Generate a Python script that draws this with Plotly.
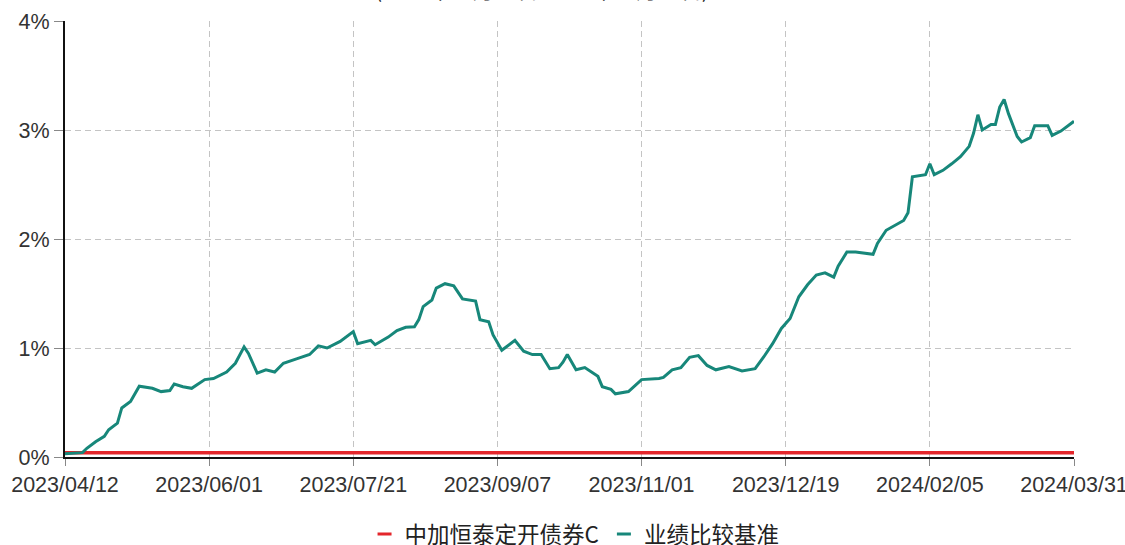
import plotly.graph_objects as go

# trading-day index (0 = 2023/04/12, 231 = 2024/03/31)
tick_idx = [0, 33, 66, 99, 132, 165, 198, 231]
tick_labels = ["2023/04/12", "2023/06/01", "2023/07/21", "2023/09/07",
               "2023/11/01", "2023/12/19", "2024/02/05", "2024/03/31"]
y_ticks = [0, 1, 2, 3, 4]
y_labels = ["0%", "1%", "2%", "3%", "4%"]

bench_idx = [0, 4, 5, 7, 9, 10, 12, 13, 15, 17, 20, 22, 24, 25, 27, 29, 32, 34, 37, 39,
             41, 42, 44, 46, 48, 50, 53, 56, 58, 60, 63, 66, 67, 70, 71, 74, 76, 78, 80, 81,
             82, 84, 85, 87, 89, 91, 94, 95, 97, 98, 100, 103, 105, 107, 109, 111, 113, 114, 115, 117,
             119, 122, 123, 125, 126, 129, 132, 136, 137, 139, 141, 143, 145, 147, 149, 152, 155, 158, 160, 162,
             164, 166, 168, 170, 172, 174, 176, 177, 179, 181, 185, 186, 188, 192, 193, 194, 197, 198, 199, 201,
             203, 205, 207, 208, 209, 210, 212, 213, 214, 215, 216, 218, 219, 221, 222, 225, 226, 228, 231]
bench_vals = [0.03, 0.04, 0.08, 0.14, 0.19, 0.25, 0.31, 0.45, 0.51, 0.65, 0.63, 0.60, 0.61, 0.67, 0.645, 0.63, 0.71, 0.72, 0.78, 0.86,
              1.01, 0.95, 0.77, 0.80, 0.78, 0.86, 0.90, 0.94, 1.02, 1.00, 1.06, 1.15, 1.04, 1.07, 1.03, 1.10, 1.16, 1.19, 1.195, 1.26,
              1.38, 1.44, 1.55, 1.59, 1.57, 1.45, 1.43, 1.26, 1.24, 1.12, 0.98, 1.07, 0.97, 0.94, 0.94, 0.81, 0.82, 0.87, 0.94, 0.80,
              0.82, 0.74, 0.645, 0.62, 0.58, 0.60, 0.71, 0.72, 0.73, 0.80, 0.82, 0.915, 0.93, 0.84, 0.80, 0.83, 0.79, 0.81, 0.92, 1.04,
              1.18, 1.27, 1.47, 1.58, 1.67, 1.69, 1.65, 1.75, 1.88, 1.88, 1.86, 1.96, 2.08, 2.17, 2.24, 2.57, 2.59, 2.69, 2.59, 2.63,
              2.69, 2.755, 2.85, 2.97, 3.14, 3.00, 3.05, 3.05, 3.21, 3.28, 3.15, 2.94, 2.89, 2.93, 3.04, 3.04, 2.95, 2.99, 3.08]

fund_idx = [0, 231]
fund_vals = [0.04, 0.04]

fund_name = "中加恒泰定开债券C"
bench_name = "业绩比较基准"
title_text = "(2023年04月12日-2024年03月31日)"

RED = "#e4262b"
TEAL = "#17877a"
FONT = "Liberation Sans, Arial, sans-serif"
GRID = "#c4c4c4"

fig = go.Figure()
fig.add_trace(go.Scatter(x=fund_idx, y=fund_vals, mode="lines", name=fund_name,
                         line=dict(color=RED, width=3.5), showlegend=False))
fig.add_trace(go.Scatter(x=bench_idx, y=bench_vals, mode="lines", name=bench_name,
                         line=dict(color=TEAL, width=3), showlegend=False))
# legend entries (short dash markers)
fig.add_trace(go.Scatter(x=[None], y=[None], mode="markers", name=fund_name,
                         marker=dict(symbol="line-ew", size=10, line=dict(color=RED, width=3))))
fig.add_trace(go.Scatter(x=[None], y=[None], mode="markers", name=bench_name,
                         marker=dict(symbol="line-ew", size=10, line=dict(color=TEAL, width=3))))

fig.add_annotation(text=title_text, xref="paper", yref="paper", x=0.473, y=1.034,
                   xanchor="center", yanchor="bottom", showarrow=False,
                   font=dict(family="Noto Sans CJK SC", size=21, color="#222"))

fig.update_layout(
    width=1125, height=545,
    margin=dict(l=65, r=51, t=21, b=88, autoexpand=False),
    paper_bgcolor="white", plot_bgcolor="white",
    font=dict(family=FONT, size=21, color="#333"),
    legend=dict(orientation="h", x=0.505, xanchor="center", y=-0.128, yanchor="top",
                font=dict(family="Noto Sans CJK SC", size=22.5, color="#222"),
                itemwidth=30, tracegroupgap=0, bgcolor="rgba(0,0,0,0)"),
    xaxis=dict(range=[0, 231], tickmode="array", tickvals=tick_idx, ticktext=tick_labels,
               showgrid=True, gridcolor=GRID, griddash="6px,4px", gridwidth=1,
               showline=True, linecolor="#111", linewidth=2, automargin=False,
               ticklabeloverflow="allow",
               ticks="outside", ticklen=7, tickcolor="#888",
               tickfont=dict(family=FONT, size=21.5, color="#333"), zeroline=False),
    yaxis=dict(range=[0, 4], tickmode="array", tickvals=y_ticks, ticktext=y_labels,
               showgrid=True, gridcolor=GRID, griddash="6px,4px", gridwidth=1,
               showline=True, linecolor="#111", linewidth=2, automargin=False,
               ticklabeloverflow="allow",
               ticks="outside", ticklen=9, tickcolor="#888",
               tickfont=dict(family=FONT, size=21.5, color="#333"), zeroline=False),
)

fig.write_html("out.html", config={"displayModeBar": False},
               post_script="document.body.style.margin='0';document.body.style.overflow='hidden';")
